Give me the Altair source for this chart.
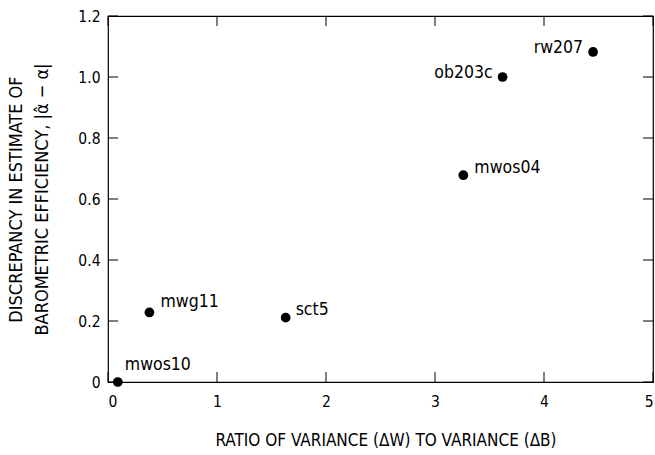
import altair as alt
import pandas as pd

sites = ["mwos10", "mwg11", "sct5", "mwos04", "ob203c", "rw207"]
ratio = [0.09, 0.38, 1.63, 3.26, 3.62, 4.45]
discrepancy = [0.0, 0.228, 0.211, 0.678, 1.0, 1.082]

x_ticks = [0, 1, 2, 3, 4, 5]
y_ticks = [0, 0.2, 0.4, 0.6, 0.8, 1.0, 1.2]

df = pd.DataFrame({"site": sites, "ratio": ratio, "disc": discrepancy})
xt = pd.DataFrame({"t": x_ticks})
yt = pd.DataFrame({"t": y_ticks})

FONT = "DejaVu Sans Condensed, sans-serif"
W, H = 545, 366
TL = 10

xs = alt.Scale(domain=[0, 5], nice=False, zero=False)
ys = alt.Scale(domain=[0, 1.2], nice=False, zero=False)

xaxis = alt.Axis(values=x_ticks, ticks=False, domain=False, grid=False,
                 labelFont=FONT, labelFontSize=15.5, labelColor="black", labelPadding=12,
                 labelExpr="datum.value == 0 ? '0' : format(datum.value, 'd')",
                 title="RATIO OF VARIANCE (ΔW) TO VARIANCE (ΔB)",
                 titleFont=FONT, titleFontSize=17, titleFontWeight="normal",
                 titleColor="black", titlePadding=23, titleX=W / 2 + 5)
yaxis = alt.Axis(values=y_ticks, ticks=False, domain=False, grid=False,
                 labelFont=FONT, labelFontSize=15.5, labelColor="black", labelPadding=8,
                 labelExpr="datum.value == 0 ? '0' : format(datum.value, '.1f')",
                 title=["DISCREPANCY IN ESTIMATE OF", "BAROMETRIC EFFICIENCY, |α̂ − α|"],
                 titleFont=FONT, titleFontSize=18, titleFontWeight="normal",
                 titleColor="black", titlePadding=26, titleLineHeight=26)

points = alt.Chart(df).mark_circle(size=95, color="black", opacity=1).encode(
    x=alt.X("ratio:Q", scale=xs, axis=xaxis),
    y=alt.Y("disc:Q", scale=ys, axis=yaxis),
)

def label(site, align, dx, dy):
    return alt.Chart(df).transform_filter(alt.datum.site == site).mark_text(
        align=align, baseline="middle", dx=dx, dy=dy, font=FONT, fontSize=17.5, color="black"
    ).encode(x=alt.X("ratio:Q", scale=xs), y=alt.Y("disc:Q", scale=ys), text="site:N")

labs = [
    label("mwos10", "left", 7, -17),
    label("mwg11", "left", 11, -10),
    label("sct5", "left", 10, -8),
    label("mwos04", "left", 11, -7),
    label("ob203c", "right", -10, -4),
    label("rw207", "right", -10, -4),
]

# inward ticks on all four sides
xb = alt.Chart(xt).mark_rule(color="black", strokeWidth=1).encode(
    x=alt.X("t:Q", scale=xs), y=alt.value(H), y2=alt.value(H - TL))
xtop = alt.Chart(xt).mark_rule(color="black", strokeWidth=1).encode(
    x=alt.X("t:Q", scale=xs), y=alt.value(0), y2=alt.value(TL))
yl = alt.Chart(yt).mark_rule(color="black", strokeWidth=1).encode(
    y=alt.Y("t:Q", scale=ys), x=alt.value(0), x2=alt.value(TL))
yr = alt.Chart(yt).mark_rule(color="black", strokeWidth=1).encode(
    y=alt.Y("t:Q", scale=ys), x=alt.value(W), x2=alt.value(W - TL))

chart = alt.layer(xb, xtop, yl, yr, points, *labs).properties(
    width=W, height=H,
    autosize=alt.AutoSizeParams(type="none"),
    padding={"left": 108, "top": 16, "right": 2, "bottom": 73},
    background="white",
).configure_view(stroke="black", strokeWidth=1.2)

chart.save("out.html", embed_options={"renderer": "svg", "actions": False})
